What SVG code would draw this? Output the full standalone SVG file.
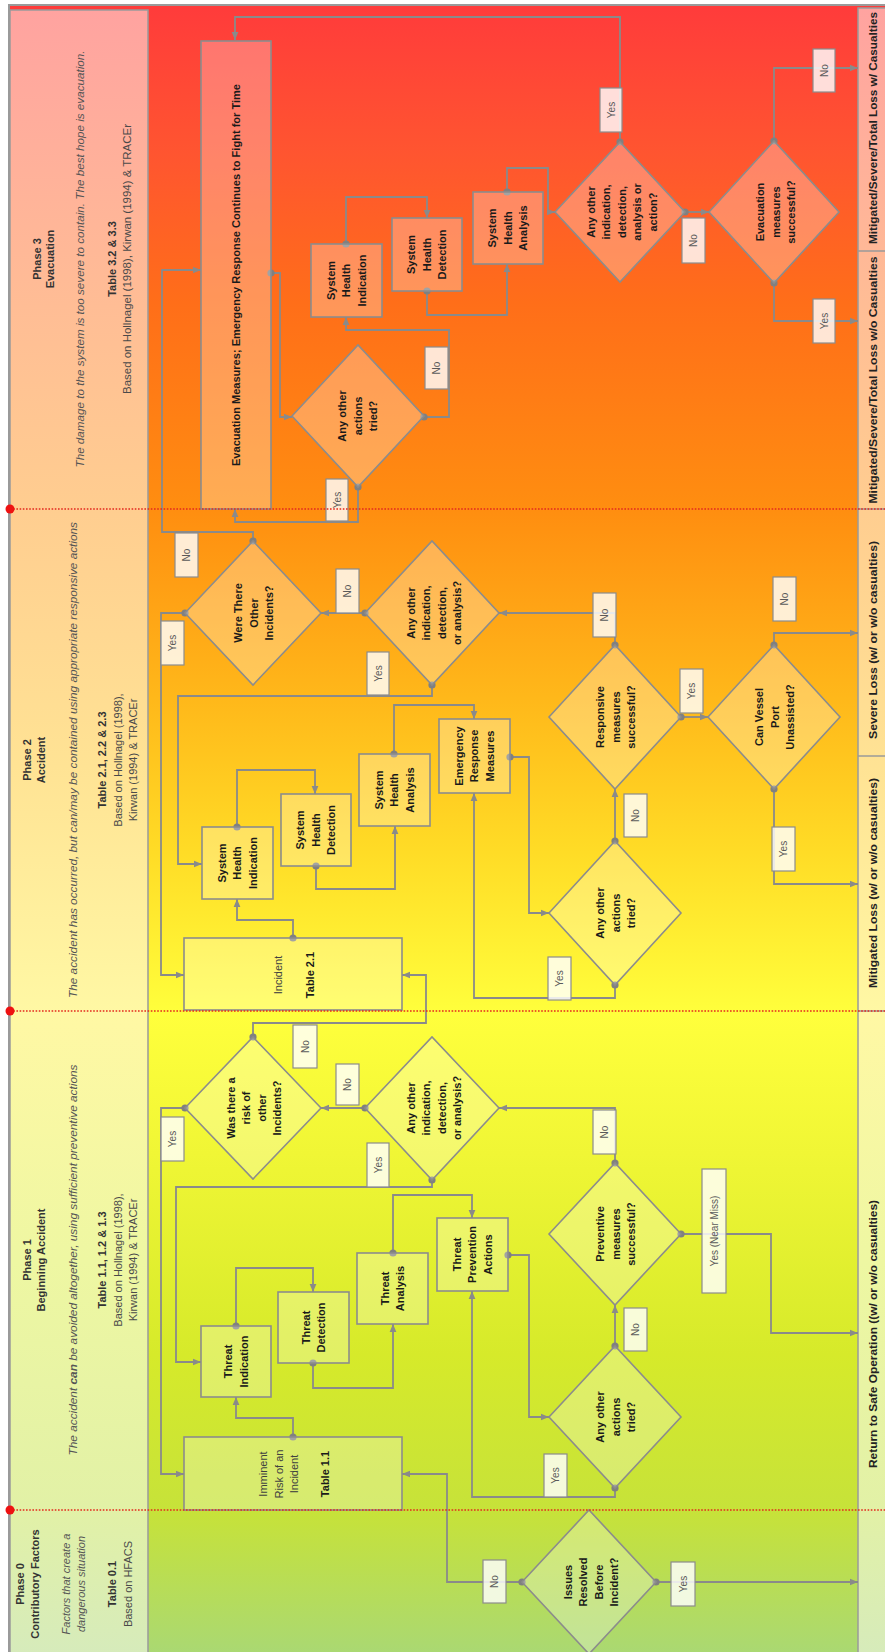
<svg xmlns="http://www.w3.org/2000/svg" width="885" height="1652" viewBox="0 0 885 1652">
<defs>
<linearGradient id="bg" x1="0" y1="0" x2="0" y2="1">
<stop offset="0" stop-color="#ff3b3b"/>
<stop offset="0.09" stop-color="#ff5530"/>
<stop offset="0.18" stop-color="#ff6e19"/>
<stop offset="0.306" stop-color="#ff8e10"/>
<stop offset="0.42" stop-color="#ffb81a"/>
<stop offset="0.513" stop-color="#ffdc26"/>
<stop offset="0.611" stop-color="#ffff3c"/>
<stop offset="0.695" stop-color="#f0f635"/>
<stop offset="0.817" stop-color="#d6ea2a"/>
<stop offset="0.914" stop-color="#c6e23a"/>
<stop offset="1" stop-color="#a9d874"/>
</linearGradient>
<linearGradient id="hd" x1="0" y1="0" x2="0" y2="1">
<stop offset="0" stop-color="#ffa3a0"/>
<stop offset="0.18" stop-color="#ffbd95"/>
<stop offset="0.30" stop-color="#ffcd90"/>
<stop offset="0.46" stop-color="#ffe394"/>
<stop offset="0.61" stop-color="#fff8a4"/>
<stop offset="0.76" stop-color="#eef7a2"/>
<stop offset="0.91" stop-color="#e2f1a6"/>
<stop offset="1" stop-color="#d6ebbb"/>
</linearGradient>
<marker id="dot" markerWidth="10" markerHeight="10" refX="5" refY="5" markerUnits="userSpaceOnUse"><circle cx="5" cy="5" r="3.6" fill="#808080"/></marker>
<marker id="arr" viewBox="0 0 10 10" refX="10" refY="5" markerWidth="8" markerHeight="8" markerUnits="userSpaceOnUse" orient="auto"><path d="M0,0.8 L10,5 L0,9.2 z" fill="#8a8a8a"/></marker>
</defs>
<style>
.n{fill:#fff;fill-opacity:.28;stroke:#8c8c8c;stroke-width:1.6}
.lb{fill:#fff;fill-opacity:.82;stroke:#8c8c8c;stroke-width:1.2}
.c{fill:none;stroke:#8a8a8a;stroke-width:1.8;marker-start:url(#dot);marker-end:url(#arr)}
.nt{font-family:"Liberation Sans",Arial,sans-serif;font-size:11px;font-weight:bold;fill:#1a1a1a;text-anchor:middle}
.nr{font-family:"Liberation Sans",Arial,sans-serif;font-size:11px;fill:#404040;text-anchor:middle}
.lt{font-family:"Liberation Sans",Arial,sans-serif;font-size:10px;fill:#5a5a5a;text-anchor:middle}
.hb{font-family:"Liberation Sans",Arial,sans-serif;font-size:11px;font-weight:bold;fill:#333;text-anchor:middle}
.hr{font-family:"Liberation Sans",Arial,sans-serif;font-size:11px;fill:#4a4a4a;text-anchor:middle}
.hi{font-family:"Liberation Sans",Arial,sans-serif;font-size:11px;font-style:italic;fill:#555;text-anchor:middle}
.ot{font-family:"Liberation Sans",Arial,sans-serif;font-size:11.5px;font-weight:bold;fill:#222;text-anchor:middle}
.sep{stroke:#9a9a9a;stroke-width:1.5}
.red{stroke:#e3281e;stroke-width:1.6;stroke-dasharray:1.6 1.6}
</style>

<g id="background">
<rect x="9" y="5" width="880" height="1652" fill="url(#bg)" stroke="#9a9a9a" stroke-width="2"/>
</g>

<g id="header">
<rect x="10" y="10" width="138" height="1645" fill="url(#hd)" stroke="#9a9a9a" stroke-width="1.5"/>
<g transform="translate(0,259) rotate(-90)">
<text class="hb" x="0" y="41">Phase 3</text>
<text class="hb" x="0" y="54">Evacuation</text>
<text class="hi" x="0" y="84" textLength="417" lengthAdjust="spacingAndGlyphs">The damage to the system is too severe to contain. The best hope is evacuation.</text>
<text class="hb" x="0" y="116">Table 3.2 &amp; 3.3</text>
<text class="hr" x="0" y="131" textLength="270" lengthAdjust="spacingAndGlyphs">Based on Hollnagel (1998), Kirwan (1994) &amp; TRACEr</text>
</g>
<g transform="translate(0,760) rotate(-90)">
<text class="hb" x="0" y="31">Phase 2</text>
<text class="hb" x="0" y="45">Accident</text>
<text class="hi" x="0" y="77" textLength="476" lengthAdjust="spacingAndGlyphs">The accident has  occurred, but can/may be contained using appropriate responsive actions</text>
<text class="hb" x="0" y="106">Table 2.1, 2.2 &amp; 2.3</text>
<text class="hr" x="0" y="122">Based on Hollnagel (1998),</text>
<text class="hr" x="0" y="137">Kirwan (1994) &amp; TRACEr</text>
</g>
<g transform="translate(0,1260) rotate(-90)">
<text class="hb" x="0" y="31">Phase 1</text>
<text class="hb" x="0" y="45">Beginning  Accident</text>
<text class="hi" x="0" y="77" textLength="391" lengthAdjust="spacingAndGlyphs">The accident <tspan font-weight="bold">can</tspan> be avoided altogether, using sufficient preventive actions</text>
<text class="hb" x="0" y="106">Table 1.1, 1.2 &amp; 1.3</text>
<text class="hr" x="0" y="122">Based on Hollnagel (1998),</text>
<text class="hr" x="0" y="137">Kirwan (1994) &amp; TRACEr</text>
</g>
<g transform="translate(0,1584) rotate(-90)">
<text class="hb" x="0" y="24">Phase 0</text>
<text class="hb" x="0" y="39">Contributory Factors</text>
<text class="hi" x="0" y="70">Factors that create a</text>
<text class="hi" x="0" y="85">dangerous situation</text>
<text class="hb" x="0" y="116">Table 0.1</text>
<text class="hr" x="0" y="132">Based on HFACS</text>
</g>
</g>

<g id="outcomes">
<rect x="858" y="8" width="30" height="1650" fill="url(#hd)" stroke="#9a9a9a" stroke-width="1.5"/>
<line class="sep" x1="858" y1="251" x2="885" y2="251"/>
<line class="sep" x1="858" y1="509" x2="885" y2="509"/>
<line class="sep" x1="858" y1="756" x2="885" y2="756"/>
<line class="sep" x1="858" y1="1011" x2="885" y2="1011"/>
<text class="ot" transform="translate(0,128) rotate(-90)" x="0" y="877" textLength="232" lengthAdjust="spacingAndGlyphs">Mitigated/Severe/Total Loss w/ Casualties</text>
<text class="ot" transform="translate(0,380) rotate(-90)" x="0" y="877" textLength="247" lengthAdjust="spacingAndGlyphs">Mitigated/Severe/Total Loss w/o Casualties</text>
<text class="ot" transform="translate(0,640) rotate(-90)" x="0" y="877" textLength="198" lengthAdjust="spacingAndGlyphs">Severe Loss (w/ or w/o casualties)</text>
<text class="ot" transform="translate(0,883) rotate(-90)" x="0" y="877" textLength="210" lengthAdjust="spacingAndGlyphs">Mitigated Loss (w/ or w/o casualties)</text>
<text class="ot" transform="translate(0,1334) rotate(-90)" x="0" y="877" textLength="268" lengthAdjust="spacingAndGlyphs">Return to Safe Operation ((w/ or w/o casualties)</text>
</g>

<g id="connectors">
<path id="c1" class="c" d="M620,142 V17 H235 V40"/>
<path id="c2" class="c" d="M271,273 H280 V417 H292"/>
<path id="c3" class="c" d="M358,487 V522 H235 V509"/>
<path id="c4" class="c" d="M424,417 H449 V330 H346 V317"/>
<path id="c5" class="c" d="M346,244 V197 H427 V218"/>
<path id="c6" class="c" d="M427,291 V315 H507 V264"/>
<path id="c7" class="c" d="M507,192 V168 H548 V212 H555"/>
<path id="c8" class="c" d="M685,212 H709"/>
<path id="c9" class="c" d="M774,141 V68 H858"/>
<path id="c10" class="c" d="M774,283 V321 H858"/>
<path id="c11" class="c" d="M253,541 V532 H162 V270 H201"/>
<path id="c12" class="c" d="M185,613 H161 V975 H184"/>
<path id="c13" class="c" d="M365,613 H321"/>
<path id="c14" class="c" d="M432,685 V696 H178 V864 H202"/>
<path id="c15" class="c" d="M237,827 V770 H315 V794"/>
<path id="c16" class="c" d="M293,938 V920 H237 V899"/>
<path id="c17" class="c" d="M316,866 V889 H395 V826"/>
<path id="c18" class="c" d="M394,754 V705 H474 V719"/>
<path id="c19" class="c" d="M510,757 H529 V913 H549"/>
<path id="c20" class="c" d="M615,985 V998 H474 V793"/>
<path id="c21" class="c" d="M615,841 V789"/>
<path id="c22" class="c" d="M615,645 V613 H499"/>
<path id="c23" class="c" d="M681,717 H708"/>
<path id="c24" class="c" d="M774,645 V633 H858"/>
<path id="c25" class="c" d="M774,789 V884 H858"/>
<path id="c26" class="c" d="M253,1037 V1023 H426 V975 H402"/>
<path id="c27" class="c" d="M185,1108 H161 V1474 H184"/>
<path id="c28" class="c" d="M365,1108 H321"/>
<path id="c29" class="c" d="M432,1180 V1187 H176 V1362 H201"/>
<path id="c30" class="c" d="M236,1326 V1268 H313 V1292"/>
<path id="c31" class="c" d="M293,1437 V1418 H236 V1397"/>
<path id="c32" class="c" d="M313,1363 V1388 H393 V1324"/>
<path id="c33" class="c" d="M393,1253 V1195 H472 V1218"/>
<path id="c34" class="c" d="M508,1255 H529 V1417 H549"/>
<path id="c35" class="c" d="M615,1488 V1497 H472 V1291"/>
<path id="c36" class="c" d="M615,1346 V1305"/>
<path id="c37" class="c" d="M615,1163 V1108 H499"/>
<path id="c38" class="c" d="M681,1234 H771 V1333 H858"/>
<path id="c39" class="c" d="M522,1582 H447 V1474 H402"/>
<path id="c40" class="c" d="M656,1582 H858"/>
</g>

<g id="p3-evacuation-box"><rect class="n" x="201" y="41" width="70" height="468"/>
<text class="nt" transform="translate(236,275) rotate(-90)" x="0" y="4" textLength="382" lengthAdjust="spacingAndGlyphs">Evacuation Measures; Emergency Response Continues to Fight for Time</text></g>
<g id="p3-any-actions"><polygon class="n" points="292,416 358,345 424,416 358,487"/>
<text class="nt" transform="translate(358,416) rotate(-90)"><tspan x="0" y="-11.6">Any other</tspan><tspan x="0" y="3.9">actions</tspan><tspan x="0" y="19.4">tried?</tspan></text></g>
<g id="p3-sh-indication"><rect class="n" x="311" y="244" width="71" height="73"/>
<text class="nt" transform="translate(346.5,280.5) rotate(-90)"><tspan x="0" y="-11.6">System</tspan><tspan x="0" y="3.9">Health</tspan><tspan x="0" y="19.4">Indication</tspan></text></g>
<g id="p3-sh-detection"><rect class="n" x="392" y="218" width="70" height="73"/>
<text class="nt" transform="translate(427,254.5) rotate(-90)"><tspan x="0" y="-11.6">System</tspan><tspan x="0" y="3.9">Health</tspan><tspan x="0" y="19.4">Detection</tspan></text></g>
<g id="p3-sh-analysis"><rect class="n" x="473" y="192" width="70" height="72"/>
<text class="nt" transform="translate(508,228) rotate(-90)"><tspan x="0" y="-11.6">System</tspan><tspan x="0" y="3.9">Health</tspan><tspan x="0" y="19.4">Analysis</tspan></text></g>
<g id="p3-any-other"><polygon class="n" points="555,212 620,142 685,212 620,282"/>
<text class="nt" transform="translate(622,212) rotate(-90)"><tspan x="0" y="-27.1">Any other</tspan><tspan x="0" y="-11.6">indication,</tspan><tspan x="0" y="3.9">detection,</tspan><tspan x="0" y="19.4">analysis or</tspan><tspan x="0" y="34.9">action?</tspan></text></g>
<g id="p3-evac-successful"><polygon class="n" points="709,212 774,141 839,212 774,283"/>
<text class="nt" transform="translate(776,212) rotate(-90)"><tspan x="0" y="-11.6">Evacuation</tspan><tspan x="0" y="3.9">measures</tspan><tspan x="0" y="19.4">successful?</tspan></text></g>

<g id="p2-were-there"><polygon class="n" points="185,613 253,541 321,613 253,685"/>
<text class="nt" transform="translate(254,613) rotate(-90)"><tspan x="0" y="-11.6">Were There</tspan><tspan x="0" y="3.9">Other</tspan><tspan x="0" y="19.4">Incidents?</tspan></text></g>
<g id="p2-any-indication"><polygon class="n" points="365,613 432,541 499,613 432,685"/>
<text class="nt" transform="translate(434,613) rotate(-90)"><tspan x="0" y="-19.35">Any other</tspan><tspan x="0" y="-3.85">indication,</tspan><tspan x="0" y="11.65">detection,</tspan><tspan x="0" y="27.15">or analysis?</tspan></text></g>
<g id="p2-sh-indication"><rect class="n" x="202" y="827" width="71" height="72"/>
<text class="nt" transform="translate(237.5,863) rotate(-90)"><tspan x="0" y="-11.6">System</tspan><tspan x="0" y="3.9">Health</tspan><tspan x="0" y="19.4">Indication</tspan></text></g>
<g id="p2-sh-detection"><rect class="n" x="281" y="794" width="70" height="72"/>
<text class="nt" transform="translate(316,830) rotate(-90)"><tspan x="0" y="-11.6">System</tspan><tspan x="0" y="3.9">Health</tspan><tspan x="0" y="19.4">Detection</tspan></text></g>
<g id="p2-sh-analysis"><rect class="n" x="359" y="754" width="71" height="72"/>
<text class="nt" transform="translate(394.5,790) rotate(-90)"><tspan x="0" y="-11.6">System</tspan><tspan x="0" y="3.9">Health</tspan><tspan x="0" y="19.4">Analysis</tspan></text></g>
<g id="p2-emergency-response"><rect class="n" x="439" y="719" width="71" height="74"/>
<text class="nt" transform="translate(474.5,756) rotate(-90)"><tspan x="0" y="-11.6">Emergency</tspan><tspan x="0" y="3.9">Response</tspan><tspan x="0" y="19.4">Measures</tspan></text></g>
<g id="p2-responsive"><polygon class="n" points="549,717 615,645 681,717 615,789"/>
<text class="nt" transform="translate(616,717) rotate(-90)"><tspan x="0" y="-11.6">Responsive</tspan><tspan x="0" y="3.9">measures</tspan><tspan x="0" y="19.4">successful?</tspan></text></g>
<g id="p2-can-vessel"><polygon class="n" points="708,717 774,645 840,717 774,789"/>
<text class="nt" transform="translate(775,717) rotate(-90)"><tspan x="0" y="-11.6">Can Vessel</tspan><tspan x="0" y="3.9">Port</tspan><tspan x="0" y="19.4">Unassisted?</tspan></text></g>
<g id="p2-any-actions"><polygon class="n" points="549,913 615,841 681,913 615,985"/>
<text class="nt" transform="translate(616,913) rotate(-90)"><tspan x="0" y="-11.6">Any other</tspan><tspan x="0" y="3.9">actions</tspan><tspan x="0" y="19.4">tried?</tspan></text></g>
<g id="p2-incident"><rect class="n" x="184" y="938" width="218" height="72"/>
<text class="nr" transform="translate(278,975) rotate(-90)" x="0" y="4">Incident</text>
<text class="nt" transform="translate(310,975) rotate(-90)" x="0" y="4">Table 2.1</text></g>

<g id="p1-was-risk"><polygon class="n" points="185,1108 253,1037 321,1108 253,1179"/>
<text class="nt" transform="translate(254,1108) rotate(-90)"><tspan x="0" y="-19.35">Was there a</tspan><tspan x="0" y="-3.85">risk of</tspan><tspan x="0" y="11.65">other</tspan><tspan x="0" y="27.15">Incidents?</tspan></text></g>
<g id="p1-any-indication"><polygon class="n" points="365,1108 432,1037 499,1108 432,1180"/>
<text class="nt" transform="translate(434,1108) rotate(-90)"><tspan x="0" y="-19.35">Any other</tspan><tspan x="0" y="-3.85">indication,</tspan><tspan x="0" y="11.65">detection,</tspan><tspan x="0" y="27.15">or analysis?</tspan></text></g>
<g id="p1-threat-indication"><rect class="n" x="201" y="1326" width="70" height="71"/>
<text class="nt" transform="translate(236,1361.5) rotate(-90)"><tspan x="0" y="-3.85">Threat</tspan><tspan x="0" y="11.65">Indication</tspan></text></g>
<g id="p1-threat-detection"><rect class="n" x="278" y="1292" width="71" height="71"/>
<text class="nt" transform="translate(313.5,1327.5) rotate(-90)"><tspan x="0" y="-3.85">Threat</tspan><tspan x="0" y="11.65">Detection</tspan></text></g>
<g id="p1-threat-analysis"><rect class="n" x="357" y="1253" width="71" height="71"/>
<text class="nt" transform="translate(392.5,1288.5) rotate(-90)"><tspan x="0" y="-3.85">Threat</tspan><tspan x="0" y="11.65">Analysis</tspan></text></g>
<g id="p1-threat-prevention"><rect class="n" x="437" y="1218" width="71" height="73"/>
<text class="nt" transform="translate(472.5,1254.5) rotate(-90)"><tspan x="0" y="-11.6">Threat</tspan><tspan x="0" y="3.9">Prevention</tspan><tspan x="0" y="19.4">Actions</tspan></text></g>
<g id="p1-preventive"><polygon class="n" points="549,1234 615,1163 681,1234 615,1305"/>
<text class="nt" transform="translate(616,1234) rotate(-90)"><tspan x="0" y="-11.6">Preventive</tspan><tspan x="0" y="3.9">measures</tspan><tspan x="0" y="19.4">successful?</tspan></text></g>
<g id="p1-any-actions"><polygon class="n" points="549,1417 615,1346 681,1417 615,1488"/>
<text class="nt" transform="translate(616,1417) rotate(-90)"><tspan x="0" y="-11.6">Any other</tspan><tspan x="0" y="3.9">actions</tspan><tspan x="0" y="19.4">tried?</tspan></text></g>
<g id="p1-imminent-risk"><rect class="n" x="184" y="1437" width="218" height="73"/>
<text class="nr" transform="translate(263,1474) rotate(-90)"><tspan x="0" y="4">Imminent</tspan><tspan x="0" y="20">Risk of an</tspan><tspan x="0" y="35">Incident</tspan></text>
<text class="nt" transform="translate(325,1474) rotate(-90)" x="0" y="4">Table 1.1</text></g>

<g id="p0-issues-resolved"><polygon class="n" points="522,1582 589,1510 656,1582 589,1654"/>
<text class="nt" transform="translate(591,1582) rotate(-90)"><tspan x="0" y="-19.35">Issues</tspan><tspan x="0" y="-3.85">Resolved</tspan><tspan x="0" y="11.65">Before</tspan><tspan x="0" y="27.15">Incident?</tspan></text></g>

<g id="connector-labels">
<rect class="lb" x="600" y="88" width="22" height="44"/><text class="lt" transform="translate(611,110) rotate(-90)" x="0" y="3.5">Yes</text>
<rect class="lb" x="326" y="479" width="22" height="42"/><text class="lt" transform="translate(337,500) rotate(-90)" x="0" y="3.5">Yes</text>
<rect class="lb" x="425" y="347" width="23" height="42"/><text class="lt" transform="translate(436.5,368) rotate(-90)" x="0" y="3.5">No</text>
<rect class="lb" x="682" y="218" width="23" height="45"/><text class="lt" transform="translate(693.5,240.5) rotate(-90)" x="0" y="3.5">No</text>
<rect class="lb" x="813" y="49" width="22" height="43"/><text class="lt" transform="translate(824,70.5) rotate(-90)" x="0" y="3.5">No</text>
<rect class="lb" x="813" y="299" width="22" height="44"/><text class="lt" transform="translate(824,321) rotate(-90)" x="0" y="3.5">Yes</text>
<rect class="lb" x="175" y="533" width="23" height="44"/><text class="lt" transform="translate(186.5,555) rotate(-90)" x="0" y="3.5">No</text>
<rect class="lb" x="161" y="621" width="23" height="44"/><text class="lt" transform="translate(172.5,643) rotate(-90)" x="0" y="3.5">Yes</text>
<rect class="lb" x="336" y="569" width="23" height="44"/><text class="lt" transform="translate(347.5,591) rotate(-90)" x="0" y="3.5">No</text>
<rect class="lb" x="367" y="652" width="22" height="43"/><text class="lt" transform="translate(378,673.5) rotate(-90)" x="0" y="3.5">Yes</text>
<rect class="lb" x="548" y="957" width="23" height="43"/><text class="lt" transform="translate(559.5,978.5) rotate(-90)" x="0" y="3.5">Yes</text>
<rect class="lb" x="624" y="794" width="23" height="43"/><text class="lt" transform="translate(635.5,815.5) rotate(-90)" x="0" y="3.5">No</text>
<rect class="lb" x="593" y="593" width="23" height="44"/><text class="lt" transform="translate(604.5,615) rotate(-90)" x="0" y="3.5">No</text>
<rect class="lb" x="680" y="669" width="23" height="44"/><text class="lt" transform="translate(691.5,691) rotate(-90)" x="0" y="3.5">Yes</text>
<rect class="lb" x="773" y="577" width="23" height="44"/><text class="lt" transform="translate(784.5,599) rotate(-90)" x="0" y="3.5">No</text>
<rect class="lb" x="772" y="827" width="23" height="44"/><text class="lt" transform="translate(783.5,849) rotate(-90)" x="0" y="3.5">Yes</text>
<rect class="lb" x="293" y="1025" width="24" height="43"/><text class="lt" transform="translate(305,1046.5) rotate(-90)" x="0" y="3.5">No</text>
<rect class="lb" x="161" y="1117" width="23" height="44"/><text class="lt" transform="translate(172.5,1139) rotate(-90)" x="0" y="3.5">Yes</text>
<rect class="lb" x="336" y="1064" width="23" height="41"/><text class="lt" transform="translate(347.5,1084.5) rotate(-90)" x="0" y="3.5">No</text>
<rect class="lb" x="367" y="1143" width="22" height="44"/><text class="lt" transform="translate(378,1165) rotate(-90)" x="0" y="3.5">Yes</text>
<rect class="lb" x="544" y="1454" width="23" height="43"/><text class="lt" transform="translate(555.5,1475.5) rotate(-90)" x="0" y="3.5">Yes</text>
<rect class="lb" x="624" y="1308" width="23" height="43"/><text class="lt" transform="translate(635.5,1329.5) rotate(-90)" x="0" y="3.5">No</text>
<rect class="lb" x="593" y="1110" width="23" height="44"/><text class="lt" transform="translate(604.5,1132) rotate(-90)" x="0" y="3.5">No</text>
<rect class="lb" x="702" y="1169" width="24" height="124"/><text class="lt" transform="translate(714,1231) rotate(-90)" x="0" y="3.5">Yes (Near Miss)</text>
<rect class="lb" x="483" y="1560" width="23" height="43"/><text class="lt" transform="translate(494.5,1581.5) rotate(-90)" x="0" y="3.5">No</text>
<rect class="lb" x="671" y="1562" width="24" height="44"/><text class="lt" transform="translate(683,1584) rotate(-90)" x="0" y="3.5">Yes</text>
</g>

<g id="phase-dividers">
<line class="red" x1="10" y1="509" x2="885" y2="509"/>
<line class="red" x1="10" y1="1011" x2="885" y2="1011"/>
<line class="red" x1="10" y1="1510" x2="885" y2="1510"/>
<circle cx="10" cy="509" r="4.5" fill="#ee1111"/>
<circle cx="10" cy="1011" r="4.5" fill="#ee1111"/>
<circle cx="10" cy="1510" r="4.5" fill="#ee1111"/>
</g>
</svg>
